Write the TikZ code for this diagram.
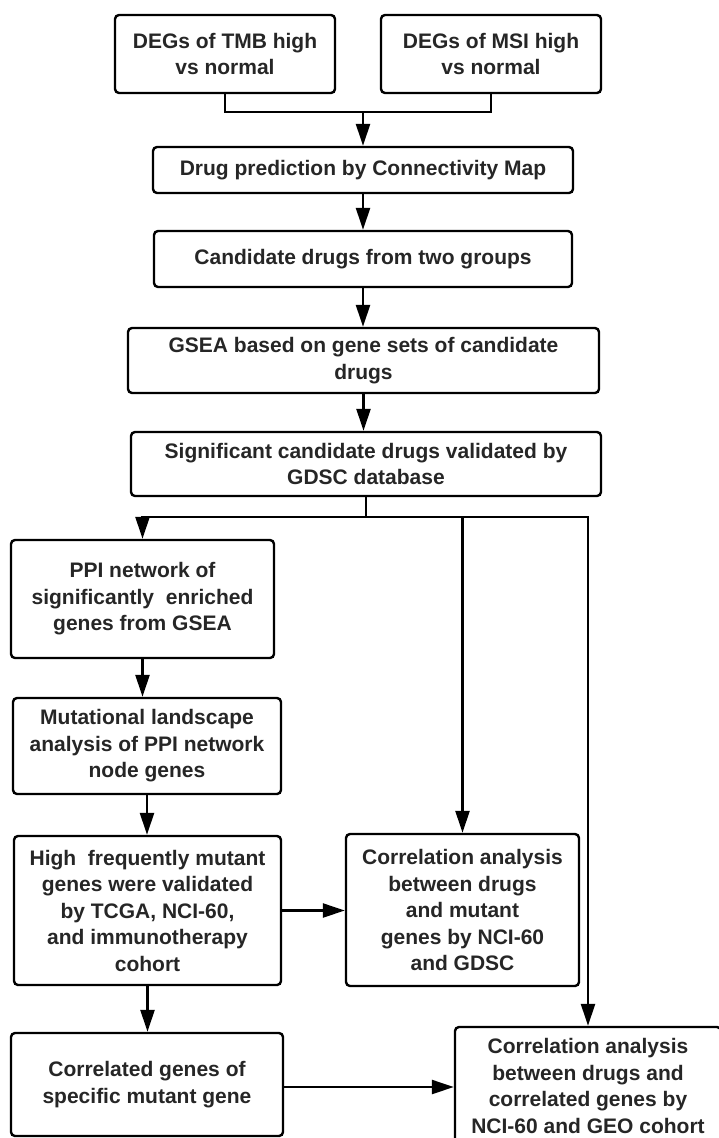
\documentclass[tikz,border=0pt]{standalone}
\usepackage{fontspec}
\setmainfont{Liberation Sans}
\usetikzlibrary{arrows.meta}
\begin{document}
\begin{tikzpicture}[x=1pt,y=-1pt,
  box/.style={draw=black, line width=2.4pt, rounded corners=4pt, fill=white,
    inner sep=0pt, align=center, text=black!85,
    font=\fontsize{21}{26.5}\selectfont\bfseries},
  conn/.style={draw=black, line width=2.4pt},
  arr/.style={conn, -{Triangle[length=22pt,width=14pt]}}]
\useasboundingbox (0,0) rectangle (719,1138);
\clip (0,0) rectangle (719,1138);
\fill[white] (0,0) rectangle (719,1138);

\node[box, minimum width=220pt, minimum height=78pt] (b1) at (225,54) {DEGs of TMB high\\vs normal};
\node[box, minimum width=220pt, minimum height=78pt] (b2) at (491,54) {DEGs of MSI high\\vs normal};
\node[box, minimum width=420pt, minimum height=46pt] (b3) at (363,170) {Drug prediction by Connectivity Map};
\node[box, minimum width=418pt, minimum height=56pt] (b4) at (363,259) {Candidate drugs from two groups};
\node[box, minimum width=471pt, minimum height=65pt] (b5) at (363.5,360.5) {GSEA based on gene sets of candidate\\drugs};
\node[box, minimum width=470pt, minimum height=64pt] (b6) at (366,464) {Significant candidate drugs validated by\\GDSC database};
\node[box, minimum width=263pt, minimum height=118pt] (ppi) at (142.5,599) {PPI network of\\significantly\ \ enriched\\genes from GSEA};
\node[box, minimum width=268pt, minimum height=96pt] (mut) at (147,746) {Mutational landscape\\analysis of PPI network\\node genes};
\node[box, minimum width=267pt, minimum height=149pt] (high) at (147.5,910.5) {High\ \ frequently mutant\\genes were validated\\by TCGA, NCI-60,\\and immunotherapy\\cohort};
\node[box, minimum width=233pt, minimum height=152pt] (c1) at (462.5,910) {Correlation analysis\\between drugs\\and mutant\\genes by NCI-60\\and GDSC};
\node[box, minimum width=272pt, minimum height=103pt] (c2) at (147,1084.5) {Correlated genes of\\specific mutant gene};
\node[box, minimum width=266pt, minimum height=118pt] (fin) at (588,1086) {Correlation analysis\\between drugs and\\correlated genes by\\NCI-60 and GEO cohort};

\coordinate (m) at (363,112);
\draw[conn] (b1.south) |- (m);
\draw[conn] (b2.south) |- (m);
\draw[arr] (m) -- (b3.north);
\draw[arr] (b3.south) -- (b3.south |- b4.north);
\draw[arr] (b4.south) -- (b4.south |- b5.north);
\draw[arr] (b5.south) -- (b5.south |- b6.north);

\coordinate (j) at (366,517);
\draw[conn] (b6.south) -- (j);
\draw[arr] (j) -| (ppi.north);
\draw[arr] (j) -| (fin.north);
\draw[arr] (c1.north |- j) -- (c1.north);

\draw[arr] (ppi.south) -- (ppi.south |- mut.north);
\draw[arr] (mut.south) -- (mut.south |- high.north);
\draw[arr] (high.south) -- (high.south |- c2.north);
\draw[arr] (high.east) -- (high.east -| c1.west);
\draw[arr] ([yshift=-2.5pt]c2.east) -- ([yshift=-2.5pt]c2.east -| fin.west);
\end{tikzpicture}
\end{document}
